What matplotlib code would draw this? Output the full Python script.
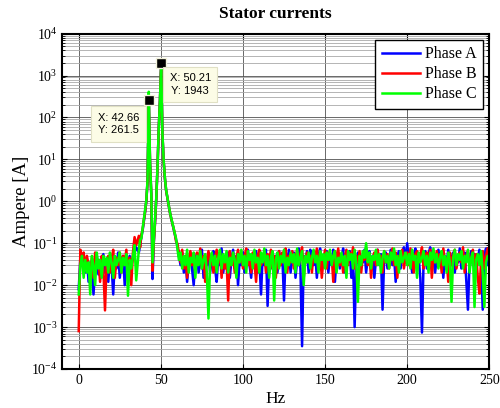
import numpy as np
import matplotlib
matplotlib.use("Agg")
import matplotlib.pyplot as plt
from matplotlib.ticker import (LogLocator, FixedLocator, NullLocator, NullFormatter,
                               LogFormatterSciNotation)

plt.rcParams['font.family'] = ['Liberation Serif', 'DejaVu Serif']
plt.rcParams['mathtext.fontset'] = 'stix'

# frequency bins (Hz): low noise band, the two peaks, high noise band
freq_low = np.arange(0, 36)
freq_peak = [36.62, 37.38, 38.13, 38.89, 39.64, 40.40, 41.15, 41.91, 42.66, 43.42,
             44.17, 44.93, 45.68, 46.44, 47.19, 47.95, 48.70, 49.46, 50.21, 50.97,
             51.72, 52.48, 53.23, 53.99, 54.74, 55.50, 56.25, 57.01, 57.76, 58.52, 59.27]
freq_high = np.arange(60, 251)
x_ticks = [0, 50, 100, 150, 200, 250]
y_ticks = [1e-4, 1e-3, 1e-2, 1e-1, 1e0, 1e1, 1e2, 1e3, 1e4]

# Phase A (blue)
a_low = [0.008, 0.045, 0.03, 0.05, 0.02, 0.04, 0.012, 0.035, 0.025, 0.006,
         0.03, 0.05, 0.018, 0.04, 0.028, 0.055, 0.02, 0.035, 0.012, 0.045,
         0.03, 0.006, 0.04, 0.025, 0.06, 0.015, 0.035, 0.05, 0.01, 0.04,
         0.022, 0.05, 0.03, 0.045, 0.06, 0.08]
a_peak = [0.06, 0.09, 0.14, 0.2, 0.33, 0.55, 1.0, 3.0, 261.5, 8.0,
          1.5, 0.014, 0.1, 0.3, 1.1, 6.0, 50, 250, 1943, 40,
          9, 3.5, 1.8, 1.2, 0.8, 0.55, 0.4, 0.3, 0.22, 0.16, 0.12]
a_high = [0.09, 0.05, 0.03, 0.06, 0.02, 0.045, 0.012, 0.035, 0.06, 0.025,
          0.01, 0.04, 0.055, 0.02, 0.035, 0.07, 0.015, 0.045, 0.03, 0.06,
          0.02, 0.04, 0.065, 0.025, 0.012, 0.05, 0.03, 0.075, 0.02, 0.045,
          0.035, 0.06, 0.015, 0.04, 0.07, 0.025, 0.05, 0.01, 0.04, 0.03,
          0.06, 0.02, 0.045, 0.07, 0.03, 0.015, 0.055, 0.035, 0.065, 0.02,
          0.04, 0.006, 0.05, 0.03, 0.07, 0.0032, 0.04, 0.025, 0.06, 0.035,
          0.05, 0.02, 0.065, 0.03, 0.045, 0.0043, 0.055, 0.035, 0.07, 0.02,
          0.045, 0.06, 0.015, 0.04, 0.075, 0.025, 0.00035, 0.05, 0.035, 0.065,
          0.02, 0.07, 0.04, 0.03, 0.06, 0.015, 0.05, 0.075, 0.025, 0.045,
          0.035, 0.065, 0.02, 0.05, 0.03, 0.07, 0.012, 0.045, 0.06, 0.025,
          0.04, 0.075, 0.02, 0.055, 0.035, 0.065, 0.015, 0.045, 0.001, 0.03,
          0.06, 0.025, 0.05, 0.035, 0.07, 0.02, 0.045, 0.065, 0.03, 0.05,
          0.015, 0.04, 0.07, 0.03, 0.055, 0.0026, 0.045, 0.06, 0.025, 0.04,
          0.07, 0.03, 0.05, 0.012, 0.045, 0.065, 0.025, 0.055, 0.08, 0.035,
          0.1, 0.04, 0.06, 0.02, 0.05, 0.075, 0.03, 0.045, 0.015, 0.00074,
          0.04, 0.065, 0.025, 0.055, 0.08, 0.03, 0.05, 0.02, 0.045, 0.07,
          0.035, 0.06, 0.015, 0.05, 0.03, 0.07, 0.025, 0.045, 0.06, 0.02,
          0.05, 0.035, 0.075, 0.025, 0.045, 0.06, 0.012, 0.0026, 0.04, 0.065,
          0.03, 0.055, 0.02, 0.045, 0.07, 0.035, 0.0026, 0.05, 0.075, 0.03,
          0.06]

# Phase B (red)
b_low = [0.0008, 0.07, 0.04, 0.06, 0.025, 0.05, 0.03, 0.02, 0.045, 0.015,
         0.06, 0.03, 0.04, 0.012, 0.05, 0.025, 0.0025, 0.035, 0.05, 0.02,
         0.04, 0.07, 0.015, 0.045, 0.03, 0.06, 0.02, 0.05, 0.035, 0.07,
         0.02, 0.045, 0.01, 0.06, 0.14, 0.09]
b_peak = [0.15, 0.08, 0.16, 0.21, 0.35, 0.56, 1.0, 3.0, 255, 8.0,
          1.5, 0.022, 0.1, 0.3, 1.1, 6.0, 50, 250, 1940, 40,
          9, 3.5, 1.8, 1.2, 0.8, 0.55, 0.4, 0.3, 0.22, 0.17, 0.11]
b_high = [0.1, 0.06, 0.035, 0.07, 0.025, 0.05, 0.015, 0.04, 0.065, 0.03,
          0.045, 0.02, 0.06, 0.035, 0.075, 0.025, 0.05, 0.012, 0.04, 0.065,
          0.03, 0.055, 0.02, 0.045, 0.07, 0.035, 0.06, 0.015, 0.05, 0.025,
          0.04, 0.0043, 0.065, 0.03, 0.055, 0.02, 0.045, 0.07, 0.035, 0.06,
          0.025, 0.05, 0.075, 0.03, 0.045, 0.02, 0.06, 0.035, 0.012, 0.05,
          0.07, 0.03, 0.045, 0.06, 0.02, 0.055, 0.035, 0.07, 0.025, 0.05,
          0.015, 0.04, 0.065, 0.03, 0.06, 0.045, 0.075, 0.02, 0.05, 0.035,
          0.065, 0.025, 0.045, 0.07, 0.03, 0.055, 0.08, 0.015, 0.04, 0.06,
          0.035, 0.05, 0.02, 0.065, 0.045, 0.075, 0.03, 0.055, 0.015, 0.04,
          0.07, 0.025, 0.06, 0.04, 0.05, 0.012, 0.065, 0.035, 0.075, 0.03,
          0.055, 0.02, 0.045, 0.07, 0.03, 0.06, 0.04, 0.08, 0.025, 0.05,
          0.035, 0.065, 0.02, 0.05, 0.04, 0.075, 0.03, 0.055, 0.015, 0.045,
          0.06, 0.03, 0.07, 0.04, 0.05, 0.02, 0.065, 0.035, 0.055, 0.025,
          0.045, 0.075, 0.03, 0.06, 0.015, 0.05, 0.035, 0.07, 0.025, 0.045,
          0.06, 0.03, 0.075, 0.04, 0.02, 0.055, 0.065, 0.035, 0.05, 0.08,
          0.025, 0.045, 0.06, 0.03, 0.07, 0.015, 0.05, 0.035, 0.065, 0.04,
          0.055, 0.02, 0.075, 0.035, 0.045, 0.012, 0.06, 0.03, 0.05, 0.07,
          0.025, 0.045, 0.06, 0.035, 0.08, 0.02, 0.05, 0.065, 0.03, 0.045,
          0.07, 0.03, 0.055, 0.015, 0.0063, 0.04, 0.065, 0.025, 0.05, 0.075,
          0.04]

# Phase C (green)
c_low = [0.006, 0.03, 0.05, 0.015, 0.04, 0.02, 0.035, 0.006, 0.05, 0.03,
         0.01, 0.06, 0.025, 0.04, 0.015, 0.05, 0.03, 0.045, 0.02, 0.06,
         0.035, 0.015, 0.05, 0.03, 0.04, 0.06, 0.02, 0.045, 0.03, 0.055,
         0.0056, 0.04, 0.025, 0.05, 0.09, 0.013]
c_peak = [0.07, 0.12, 0.13, 0.22, 0.36, 0.6, 1.05, 3.2, 410, 8.5,
          1.6, 0.035, 0.11, 0.32, 1.15, 6.2, 52, 260, 1900, 42,
          9.5, 3.6, 1.85, 1.25, 0.82, 0.56, 0.41, 0.31, 0.23, 0.17, 0.13]
c_high = [0.08, 0.04, 0.06, 0.025, 0.05, 0.03, 0.07, 0.02, 0.045, 0.035,
          0.06, 0.015, 0.05, 0.03, 0.065, 0.025, 0.04, 0.055, 0.02, 0.0016,
          0.035, 0.06, 0.03, 0.05, 0.02, 0.045, 0.07, 0.025, 0.055, 0.035,
          0.065, 0.02, 0.045, 0.03, 0.06, 0.04, 0.015, 0.055, 0.035, 0.07,
          0.03, 0.05, 0.02, 0.065, 0.04, 0.055, 0.025, 0.07, 0.035, 0.045,
          0.02, 0.06, 0.035, 0.075, 0.03, 0.05, 0.015, 0.045, 0.065, 0.0043,
          0.04, 0.06, 0.025, 0.05, 0.035, 0.07, 0.02, 0.045, 0.03, 0.06,
          0.035, 0.055, 0.02, 0.075, 0.03, 0.045, 0.065, 0.01, 0.05, 0.035,
          0.06, 0.025, 0.045, 0.07, 0.035, 0.05, 0.02, 0.065, 0.04, 0.055,
          0.025, 0.06, 0.04, 0.07, 0.03, 0.05, 0.065, 0.02, 0.045, 0.035,
          0.06, 0.03, 0.05, 0.015, 0.065, 0.04, 0.055, 0.025, 0.07, 0.035,
          0.004, 0.05, 0.03, 0.065, 0.045, 0.1, 0.035, 0.06, 0.025, 0.05,
          0.04, 0.07, 0.03, 0.055, 0.02, 0.045, 0.065, 0.035, 0.05, 0.025,
          0.06, 0.04, 0.075, 0.03, 0.05, 0.02, 0.065, 0.035, 0.045, 0.06,
          0.03, 0.055, 0.025, 0.07, 0.04, 0.05, 0.015, 0.06, 0.035, 0.045,
          0.065, 0.03, 0.05, 0.02, 0.06, 0.04, 0.075, 0.035, 0.055, 0.025,
          0.045, 0.065, 0.03, 0.05, 0.02, 0.06, 0.035, 0.004, 0.045, 0.07,
          0.03, 0.055, 0.04, 0.065, 0.025, 0.05, 0.035, 0.07, 0.02, 0.045,
          0.06, 0.003, 0.04, 0.055, 0.03, 0.065, 0.02, 0.003, 0.035, 0.05,
          0.045]

# data tips shown on the figure
tip_x = [42.66, 50.21]
tip_y = [261.5, 1943]
tip_text = ['X: 42.66\nY: 261.5', 'X: 50.21\nY: 1943']

freq = np.concatenate([freq_low, freq_peak, freq_high])
phases = [
    ('Phase A', a_low + a_peak + a_high, (0, 0, 1)),
    ('Phase B', b_low + b_peak + b_high, (1, 0, 0)),
    ('Phase C', c_low + c_peak + c_high, (0, 1, 0)),
]

fig = plt.figure(figsize=(5, 4.08), dpi=100)
ax = fig.add_axes([0.1246, 0.0956, 0.854, 0.822])

for name, vals, col in phases:
    ax.semilogy(freq, vals, color=col, lw=1.8, label=name)

ax.set_xlim(-10, 250)
ax.set_ylim(1e-4, 1e4)
ax.xaxis.set_major_locator(FixedLocator(x_ticks))
ax.xaxis.set_minor_locator(NullLocator())
ax.yaxis.set_major_locator(FixedLocator(y_ticks))
ax.yaxis.set_major_formatter(LogFormatterSciNotation())
ax.yaxis.set_minor_locator(LogLocator(base=10, subs=np.arange(2, 10), numticks=100))
ax.yaxis.set_minor_formatter(NullFormatter())

ax.grid(which='major', color='#505050', lw=0.6, ls='-')
ax.grid(which='minor', color='#a8a8a8', lw=0.6, ls='-')
ax.set_axisbelow(True)

ax.tick_params(which='both', direction='in', top=True, right=True, labelsize=10)
ax.tick_params(which='major', length=3.5, width=0.8)
ax.tick_params(which='minor', length=2, width=0.6)
for sp in ax.spines.values():
    sp.set_linewidth(1.5)

ax.set_title('Stator currents', fontsize=12.5, fontweight='bold', pad=11)
ax.set_xlabel('Hz', fontsize=12.5, labelpad=3)
ax.set_ylabel('Ampere [A]', fontsize=13.5, labelpad=1)

leg = ax.legend(loc='upper right', fontsize=11.5, fancybox=False, framealpha=1,
                edgecolor='black', handlelength=2.4, handletextpad=0.3,
                labelspacing=0.25, borderpad=0.4, borderaxespad=0.4)
leg.get_frame().set_linewidth(1.0)

# data tip markers and boxes
ax.plot(tip_x, tip_y, ls='none', marker='s', ms=6.5, mfc='black',
        mec='#f4f4dc', mew=1, zorder=5)
offsets = [(-30, -24), (29, -21)]
for x, y, txt, off in zip(tip_x, tip_y, tip_text, offsets):
    ax.annotate(txt, xy=(x, y), xytext=off,
                textcoords='offset pixels', ha='center', va='center',
                fontsize=8, family='Liberation Sans', linespacing=1.3,
                bbox=dict(boxstyle='square,pad=0.6', fc='#fcfce6', ec='#e0e0c4', lw=0.8),
                zorder=6)

fig.savefig('out.png', dpi=100)
